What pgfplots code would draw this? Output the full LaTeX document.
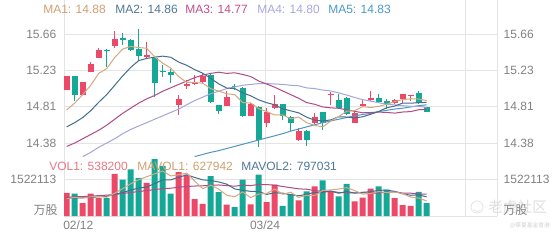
\documentclass[border=0pt]{standalone}
\usepackage{pgfplots}
\pgfplotsset{compat=1.18}
\usepackage{pgfplotstable}
\usepackage{fontspec}
\setmainfont{Liberation Sans}
\newfontfamily\cjk{Noto Sans CJK SC}
\newfontfamily\cjktc{Noto Sans CJK TC}
\definecolor{cup}{RGB}{236,72,104}
\definecolor{cdn}{RGB}{22,168,150}
\definecolor{ma1}{RGB}{212,168,128}
\definecolor{ma2}{RGB}{68,110,140}
\definecolor{ma3}{RGB}{175,75,135}
\definecolor{ma4}{RGB}{165,165,222}
\definecolor{ma5}{RGB}{80,150,195}
\definecolor{gridc}{RGB}{228,228,228}
\definecolor{lbl}{RGB}{130,130,130}
\definecolor{volt}{RGB}{232,120,130}
\definecolor{ma1t}{RGB}{208,160,115}
\definecolor{ma2t}{RGB}{80,120,150}
\definecolor{ma3t}{RGB}{192,80,144}
\definecolor{ma4t}{RGB}{168,168,224}
\definecolor{ma5t}{RGB}{74,154,200}
\newcommand\fsz{\fontsize{9}{10}\selectfont}

\pgfplotstableread{
x o h l c
1 15.01 15.17 15.01 15.17
3 14.94 15.10 14.94 15.10
4 15.22 15.33 15.22 15.31
5 15.38 15.50 15.38 15.47
7 15.52 15.70 15.50 15.60
11 15.39 15.57 15.37 15.42
15 14.83 14.94 14.71 14.90
16 15.05 15.12 15.02 15.08
17 15.08 15.18 15.06 15.09
18 15.10 15.20 15.09 15.17
21 14.82 14.99 14.81 14.92
24 14.70 14.85 14.70 14.84
26 14.61 14.79 14.57 14.75
27 14.79 14.94 14.78 14.84
30 14.41 14.56 14.40 14.52
32 14.61 14.73 14.60 14.69
34 14.94 14.98 14.83 14.96
37 14.61 14.74 14.61 14.73
38 14.81 14.90 14.80 14.84
39 14.89 14.99 14.87 14.91
42 14.85 14.90 14.84 14.89
43 14.90 14.96 14.85 14.96
44 14.94 14.95 14.87 14.95
}\upT

\pgfplotstableread{
x o h l c
2 15.17 15.17 14.87 14.94
6 15.47 15.49 15.28 15.46
8 15.62 15.67 15.54 15.59
9 15.59 15.60 15.46 15.47
10 15.49 15.72 15.35 15.40
12 15.38 15.39 14.92 15.09
13 15.23 15.30 15.16 15.22
14 15.22 15.25 15.09 15.18
19 15.18 15.19 14.85 14.86
20 14.83 14.83 14.72 14.76
22 15.05 15.08 15.01 15.04
23 15.03 15.04 14.69 14.70
25 14.80 14.81 14.33 14.42
28 14.84 14.84 14.65 14.70
29 14.69 14.70 14.52 14.62
31 14.52 14.53 14.34 14.41
33 14.74 14.75 14.53 14.61
35 14.89 14.96 14.78 14.79
36 14.91 14.92 14.71 14.72
40 14.91 14.96 14.85 14.86
41 14.87 14.90 14.78 14.84
45 14.97 14.99 14.84 14.85
46 14.80 14.80 14.74 14.75
}\dnT

\pgfplotstableread{
x v
1 960000
3 540000
4 930000
5 750000
7 1760000
11 1380000
15 1830000
16 1730000
17 700000
18 510000
21 470000
24 490000
26 580000
27 1310000
30 650000
32 1240000
34 1030000
37 610000
38 770000
39 1140000
42 750000
43 450000
44 420000
}\vupT

\pgfplotstableread{
x v
2 930000
6 750000
8 1520000
9 1940000
10 1590000
12 2370000
13 2090000
14 930000
19 1660000
20 1000000
22 370000
23 1520000
25 1730000
28 420000
29 920000
31 1030000
33 1490000
35 820000
36 1340000
40 1240000
41 1100000
45 1010000
46 538200
}\vdnT

\begin{document}
\begin{tikzpicture}
\path[use as bounding box, fill=white] (0,0) rectangle (420pt,-180pt);

% ---------- price panel ----------
\begin{axis}[
  at={(48pt,-107.25pt)}, anchor=south west,
  width=324.75pt, height=107.25pt, scale only axis,
  xmin=0.66, xmax=54.79, ymin=14.38, ymax=16.0643,
  axis line style={draw=none}, major tick length=0pt,
  xtick={0.66,25.79,50.79,54.79}, xticklabels={,,,},
  ytick={14.38,14.8067,15.2333,15.66},
  yticklabels={14.38,14.81,15.23,15.66},
  grid=major, major grid style={gridc, line width=0.75pt},
  yticklabel style={font=\fsz, text=lbl, xshift=-2.25pt},
  clip=false,
]
% wicks
\addplot[draw=none, mark=none, forget plot,
  error bars/.cd, y dir=minus, y explicit, error mark=none,
  error bar style={draw=cup, line width=0.75pt}]
  table[x=x, y=h, y error minus expr=\thisrow{h}-\thisrow{l}] {\upT};
\addplot[draw=none, mark=none, forget plot,
  error bars/.cd, y dir=minus, y explicit, error mark=none,
  error bar style={draw=cdn, line width=0.75pt}]
  table[x=x, y=h, y error minus expr=\thisrow{h}-\thisrow{l}] {\dnT};
% bodies
\addplot[draw=none, mark=none, forget plot,
  error bars/.cd, y dir=minus, y explicit, error mark=none,
  error bar style={draw=cup, line width=4.5pt}]
  table[x=x, y=c, y error minus expr=\thisrow{c}-\thisrow{o}] {\upT};
\addplot[draw=none, mark=none, forget plot,
  error bars/.cd, y dir=minus, y explicit, error mark=none,
  error bar style={draw=cdn, line width=4.5pt}]
  table[x=x, y=o, y error minus expr=\thisrow{o}-\thisrow{c}] {\dnT};
% moving averages
\addplot[ma5, line width=0.75pt] coordinates {
(17,14.22)(18,14.245)(19,14.27)(20,14.29)(21,14.315)(22,14.34)(23,14.365)(24,14.39)(25,14.415)(26,14.44)(27,14.465)(28,14.49)(29,14.52)(30,14.545)(31,14.57)(32,14.595)(33,14.62)(34,14.64)(35,14.66)(36,14.68)(37,14.70)(38,14.715)(39,14.73)(40,14.75)(41,14.765)(42,14.78)(43,14.79)(44,14.805)(45,14.82)(46,14.83)};
\addplot[ma4, line width=0.75pt] coordinates {
(3,14.22)(4,14.27)(5,14.33)(6,14.38)(7,14.43)(8,14.49)(9,14.54)(10,14.58)(11,14.62)(12,14.66)(13,14.70)(14,14.74)(15,14.78)(16,14.83)(17,14.88)(18,14.92)(19,14.96)(20,14.99)(21,15.02)(22,15.04)(23,15.06)(24,15.07)(25,15.08)(26,15.08)(27,15.075)(28,15.07)(29,15.06)(30,15.054)(31,15.029)(32,15.021)(33,15.004)(34,14.993)(35,14.97)(36,14.945)(37,14.916)(38,14.891)(39,14.873)(40,14.855)(41,14.835)(42,14.829)(43,14.82)(44,14.812)(45,14.811)(46,14.80)};
\addplot[ma3, line width=0.75pt] coordinates {
(1,14.34)(2,14.38)(3,14.43)(4,14.48)(5,14.53)(6,14.59)(7,14.66)(8,14.73)(9,14.79)(10,14.85)(11,14.90)(12,14.94)(13,14.99)(14,15.03)(15,15.07)(16,15.11)(17,15.15)(18,15.18)(19,15.20)(20,15.214)(21,15.20)(22,15.207)(23,15.187)(24,15.163)(25,15.11)(26,15.075)(27,15.037)(28,14.993)(29,14.95)(30,14.906)(31,14.856)(32,14.836)(33,14.805)(34,14.794)(35,14.789)(36,14.771)(37,14.753)(38,14.736)(39,14.739)(40,14.744)(41,14.74)(42,14.732)(43,14.745)(44,14.75)(45,14.772)(46,14.772)};
\addplot[ma2, line width=0.75pt] coordinates {
(1,14.57)(2,14.62)(3,14.68)(4,14.76)(5,14.86)(6,14.95)(7,15.06)(8,15.17)(9,15.27)(10,15.351)(11,15.376)(12,15.391)(13,15.403)(14,15.39)(15,15.333)(16,15.295)(17,15.244)(18,15.202)(19,15.141)(20,15.077)(21,15.027)(22,15.022)(23,14.97)(24,14.936)(25,14.888)(26,14.855)(27,14.83)(28,14.783)(29,14.759)(30,14.735)(31,14.684)(32,14.649)(33,14.64)(34,14.652)(35,14.689)(36,14.686)(37,14.675)(38,14.689)(39,14.718)(40,14.752)(41,14.795)(42,14.815)(43,14.85)(44,14.849)(45,14.855)(46,14.858)};
\addplot[ma1, line width=0.75pt] coordinates {
(1,14.77)(2,14.85)(3,14.95)(4,15.06)(5,15.20)(6,15.256)(7,15.388)(8,15.486)(9,15.518)(10,15.504)(11,15.496)(12,15.394)(13,15.32)(14,15.262)(15,15.162)(16,15.094)(17,15.094)(18,15.084)(19,15.02)(20,14.992)(21,14.96)(22,14.95)(23,14.856)(24,14.852)(25,14.784)(26,14.75)(27,14.71)(28,14.71)(29,14.666)(30,14.686)(31,14.618)(32,14.588)(33,14.57)(34,14.638)(35,14.692)(36,14.754)(37,14.762)(38,14.808)(39,14.798)(40,14.812)(41,14.836)(42,14.868)(43,14.892)(44,14.90)(45,14.898)(46,14.88)};
\end{axis}

% right-side price labels
\begin{axis}[
  at={(48pt,-107.25pt)}, anchor=south west,
  width=324.75pt, height=107.25pt, scale only axis,
  xmin=0.66, xmax=54.79, ymin=14.38, ymax=16.0643,
  axis line style={draw=none}, major tick length=0pt,
  xtick=\empty, yticklabel pos=right,
  ytick={14.38,14.8067,15.2333,15.66},
  yticklabels={14.38,14.81,15.23,15.66},
  yticklabel style={font=\fsz, text=lbl, xshift=1.5pt},
]
\end{axis}

% ---------- volume panel ----------
\begin{axis}[
  at={(48pt,-162pt)}, anchor=south west,
  width=324.75pt, height=54.75pt, scale only axis,
  xmin=0.66, xmax=54.79, ymin=0, ymax=3044226,
  axis line style={draw=none}, major tick length=0pt,
  scaled ticks=false,
  xtick={0.66,25.79,50.79,54.79}, xticklabels={,03/24,,},
  extra x ticks={2.45}, extra x tick labels={02/12},
  extra x tick style={grid=none},
  ytick={0,1522113}, yticklabels={,1522113},
  grid=major, major grid style={gridc, line width=0.75pt},
  yticklabel style={font=\fsz, text=lbl, xshift=-2.25pt},
  xticklabel style={font=\fsz, text=lbl},
]
\addplot[ybar, bar width=4.5pt, bar shift=0pt, fill=cup, draw=none]
  table[x=x, y=v] {\vupT};
\addplot[ybar, bar width=4.5pt, bar shift=0pt, fill=cdn, draw=none]
  table[x=x, y=v] {\vdnT};
\addplot[ma3, line width=0.75pt] coordinates {
(1,780000)(2,800000)(3,810000)(4,830000)(5,850000)(6,870000)(7,900000)(8,940000)(9,980000)(10,1020000)(11,1060000)(12,1100000)(13,1140000)(14,1160000)(15,1200000)(16,1230000)(17,1250000)(18,1260000)(19,1280000)(20,1294000)(21,1269000)(22,1241000)(23,1290000)(24,1268000)(25,1317000)(26,1309000)(27,1286000)(28,1231000)(29,1180000)(30,1133000)(31,1116000)(32,1059000)(33,1029000)(34,1034000)(35,984000)(36,964000)(37,960000)(38,973000)(39,947000)(40,959000)(41,990000)(42,1009000)(43,956000)(44,952000)(45,916000)(46,914000)};
\addplot[ma2, line width=0.75pt] coordinates {
(1,750000)(2,760000)(3,760000)(4,780000)(5,800000)(6,820000)(7,900000)(8,980000)(9,1080000)(10,1167000)(11,1209000)(12,1353000)(13,1508000)(14,1508000)(15,1616000)(16,1714000)(17,1608000)(18,1507000)(19,1479000)(20,1420000)(21,1329000)(22,1129000)(23,1072000)(24,1028000)(25,1018000)(26,903000)(27,964000)(28,955000)(29,881000)(30,846000)(31,902000)(32,989000)(33,986000)(34,1040000)(35,949000)(36,1025000)(37,955000)(38,990000)(39,1012000)(40,1071000)(41,1078000)(42,1029000)(43,925000)(44,864000)(45,883000)(46,797031)};
\addplot[ma1, line width=0.75pt] coordinates {
(1,720000)(2,780000)(3,750000)(4,800000)(5,822000)(6,780000)(7,946000)(8,1142000)(9,1344000)(10,1512000)(11,1638000)(12,1760000)(13,1874000)(14,1672000)(15,1720000)(16,1790000)(17,1456000)(18,1140000)(19,1286000)(20,1120000)(21,868000)(22,802000)(23,1004000)(24,770000)(25,916000)(26,938000)(27,1126000)(28,906000)(29,992000)(30,776000)(31,866000)(32,852000)(33,1066000)(34,1088000)(35,1122000)(36,1184000)(37,1058000)(38,914000)(39,936000)(40,1020000)(41,972000)(42,1000000)(43,936000)(44,792000)(45,746000)(46,627942)};
\end{axis}

% right-side volume label
\begin{axis}[
  at={(48pt,-162pt)}, anchor=south west,
  width=324.75pt, height=54.75pt, scale only axis,
  xmin=0.66, xmax=54.79, ymin=0, ymax=3044226,
  axis line style={draw=none}, major tick length=0pt,
  scaled ticks=false, xtick=\empty, yticklabel pos=right,
  ytick={1522113}, yticklabels={1522113},
  yticklabel style={font=\fsz, text=lbl, xshift=1.5pt},
]
\end{axis}

% legends
\begin{scope}[every node/.style={inner sep=0pt, anchor=west, font=\fsz}]
\node[text=ma1t] at (32.25pt,-7pt) {MA1: 14.88};
\node[text=ma2t] at (86.25pt,-7pt) {MA2: 14.86};
\node[text=ma3t] at (138.75pt,-7pt) {MA3: 14.77};
\node[text=ma4t] at (192.75pt,-7pt) {MA4: 14.80};
\node[text=ma5t] at (246pt,-7pt) {MA5: 14.83};
\node[text=volt] at (36.75pt,-124.5pt) {VOL1: 538200};
\node[text=ma1t] at (102.75pt,-124.5pt) {MAVOL1: 627942};
\node[text=ma2t] at (180.75pt,-124.5pt) {MAVOL2: 797031};
\end{scope}

% unit labels
\node[inner sep=0pt, anchor=east, text=lbl, font=\cjk\fsz] at (43.5pt,-157.5pt) {万股};
% watermark
\draw[gray!22, line width=0.6pt] (357.75pt,-155.25pt) circle (4.5pt);
\draw[gray!22, line width=0.6pt] (355.5pt,-157pt) arc (200:320:2.5pt);
\node[inner sep=0pt, anchor=west, text=gray!25, font=\cjk\fontsize{11}{12}\selectfont] at (366pt,-155.25pt) {老虎社区};
\node[inner sep=0pt, anchor=west, text=lbl, font=\cjk\fsz] at (377.25pt,-157.5pt) {万股};
\node[inner sep=0pt, anchor=east, text=gray!35, font=\cjktc\fontsize{4.3}{5}\selectfont] at (412.5pt,-169.5pt) {@華夏基金香港};
\end{tikzpicture}
\end{document}
